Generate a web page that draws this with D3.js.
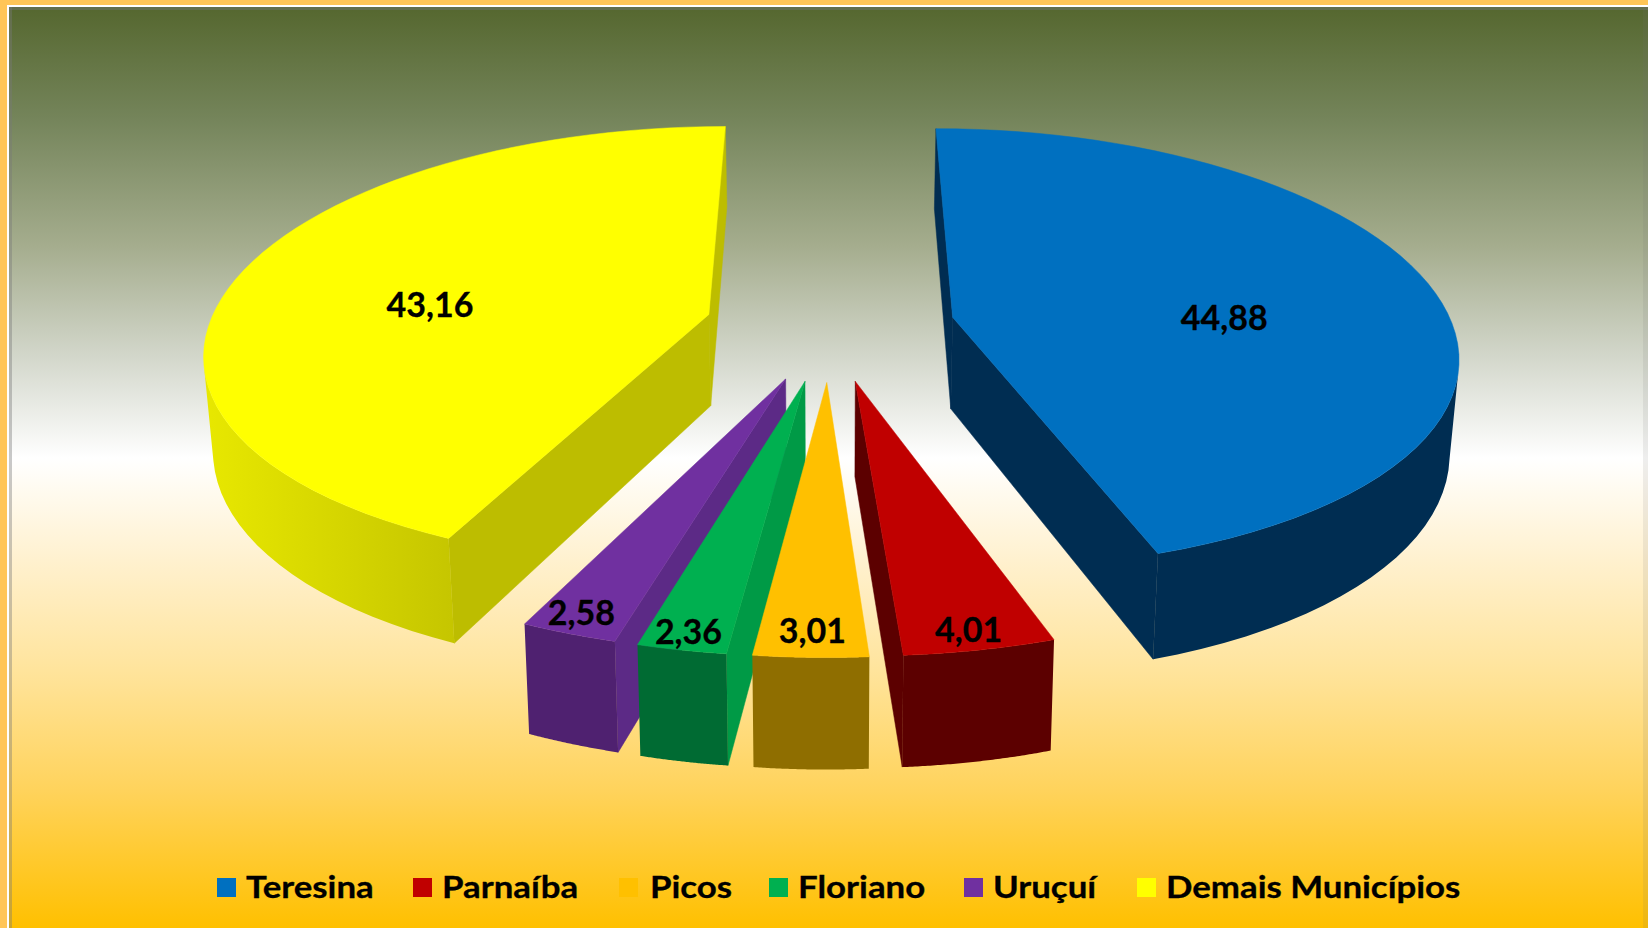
<!DOCTYPE html>
<html>
<head>
<meta charset="utf-8">
<script src="https://cdnjs.cloudflare.com/ajax/libs/d3/7.8.5/d3.min.js"></script>
<style>
    html, body { margin: 0; padding: 0; background: #ffc557; }
    svg { display: block; }
    text { font-family: Lato, "Open Sans", sans-serif; font-weight: 700; fill: #000; stroke: #000; stroke-width: 0.3px; }
</style>
</head>
<body>
<div id="wrapper"></div>
<script>
const categories = ["Teresina", "Parnaíba", "Picos", "Floriano", "Uruçuí", "Demais Municípios"]
const values = [44.88, 4.01, 3.01, 2.36, 2.58, 43.16]
const valueLabels = ["44,88", "4,01", "3,01", "2,36", "2,58", "43,16"]

const topColors = ["#0070c0", "#c00000", "#ffc000", "#00b050", "#7030a0", "#ffff00"]
const rimColors = ["#002d52", "#5c0000", "#8f6e00", "#006b33", "#4f2170", "#bdbd00"]
const rimLights = ["#002d52", "#5c0000", "#8f6e00", "#006b33", "#4f2170", "#e8e800"]
const wallColors = ["#002d52", "#5c0000", "#8f6e00", "#009a46", "#5c2a86", "#bdbd00"]

// painted from the outside in, the middle wedge last
const paintOrder = [0, 5, 1, 4, 3, 2]
const labelRadius = [0.54, 0.8, 0.86, 0.86, 0.84, 0.54]
const labelShift = [[12, 20], [17, 42], [-1, 19], [-13, 26], [-27, 27], [-24, 16]]
const legendX = [217, 413, 619, 769, 964, 1137]

const width = 1648
const height = 928
const pie = { cx: 830, cy: 326, horizon: -1200, radius: 500, explode: 125, persp: 0.1428, xPersp: 1.1, depth: 92, shrink: 0.985 }

const svg = d3.select("#wrapper").append("svg")
    .attr("width", width)
    .attr("height", height)

const defs = svg.append("defs")
const bg = defs.append("linearGradient").attr("id", "bg")
    .attr("x1", 0).attr("y1", 0).attr("x2", 0).attr("y2", 1)
const bgStops = [[0, "#55672f"], [0.12, "#74845a"], [0.26, "#a5ad8e"], [0.38, "#d3d7cb"], [0.49, "#ffffff"],
    [0.6, "#fff1cf"], [0.72, "#ffe49c"], [0.85, "#ffd35c"], [1, "#ffc000"]]
bg.selectAll("stop").data(bgStops).join("stop")
    .attr("offset", d => d[0])
    .attr("stop-color", d => d[1])

// frame: orange page, white line, soft grey edge
svg.append("rect").attr("x", 7).attr("y", 5).attr("width", width - 7).attr("height", height - 5).attr("fill", "#fff")
svg.append("rect").attr("x", 9).attr("y", 7).attr("width", width - 9).attr("height", height - 7).attr("fill", "url(#bg)")
svg.append("rect").attr("x", 9).attr("y", 7).attr("width", 3).attr("height", height - 7).attr("fill", "#777").attr("opacity", 0.4)
svg.append("rect").attr("x", 9).attr("y", 7).attr("width", width - 9).attr("height", 3).attr("fill", "#777").attr("opacity", 0.4)
svg.append("rect").attr("x", width - 5).attr("y", 7).attr("width", 5).attr("height", height - 7).attr("fill", "#777").attr("opacity", 0.12)

// world position of a point on the pie plane -> screen, top or bottom face
function project(x, y, low) {
    const w = 1 / (1 - pie.persp * y / pie.radius)
    const sy = pie.horizon + (pie.cy - pie.horizon) * w
    const sx = x * Math.pow(w, pie.xPersp)
    if (!low) return [pie.cx + sx, sy]
    return [pie.cx + sx * pie.shrink, sy + pie.depth * w]
}

function polar(a, r, mid) {
    const ex = pie.explode * Math.sin(mid)
    const ey = -pie.explode * Math.cos(mid)
    return [ex + r * Math.sin(a), ey - r * Math.cos(a)]
}

const rScale = d3.scaleLinear().domain([0, 1]).range([0, pie.radius])
const line = d3.line().curve(d3.curveLinear)

const arcs = d3.pie().sort(null).value(d => d)(values)
const slices = svg.append("g")

paintOrder.forEach(i => {
    const d = arcs[i]
    const mid = (d.startAngle + d.endAngle) / 2
    const g = slices.append("g").attr("class", "slice")
    const pt = (a, r, low) => {
        const p = polar(a, rScale(r), mid)
        return project(p[0], p[1], low)
    }

    const gradId = "rim" + i
    const grad = defs.append("linearGradient").attr("id", gradId).attr("gradientUnits", "userSpaceOnUse")
    const angles = d3.range(0, 61).map(k => d.startAngle + (d.endAngle - d.startAngle) * k / 60)
    const rimTop = angles.map(a => pt(a, 1, false))
    const rimLow = angles.map(a => pt(a, 1, true))
    const xr = d3.extent(rimTop, p => p[0])
    grad.attr("x1", xr[0]).attr("x2", xr[1]).attr("y1", 0).attr("y2", 0)
    grad.append("stop").attr("offset", 0).attr("stop-color", rimLights[i])
    grad.append("stop").attr("offset", 0.6).attr("stop-color", rimColors[i])

    // radial walls, only the ones turned to the viewer
    const walls = [
        [pt(d.startAngle, 0, false), pt(d.startAngle, 1, false), pt(d.startAngle, 1, true), pt(d.startAngle, 0, true)],
        [pt(d.endAngle, 1, false), pt(d.endAngle, 0, false), pt(d.endAngle, 0, true), pt(d.endAngle, 1, true)]
    ]
    walls.filter(w => d3.polygonArea(w) > 0).forEach(w => {
        g.append("path").attr("d", line(w) + "Z")
            .attr("fill", wallColors[i]).attr("stroke", wallColors[i]).attr("stroke-width", 0.5)
    })

    // outer rim, one polygon over the part that faces the viewer
    const front = d3.range(0, 60).filter(k =>
        d3.polygonArea([rimTop[k], rimTop[k + 1], rimLow[k + 1], rimLow[k]]) > 0)
    if (front.length) {
        const idx = front.concat(front[front.length - 1] + 1)
        const outline = idx.map(k => rimTop[k]).concat(idx.map(k => rimLow[k]).reverse())
        g.append("path").attr("d", line(outline) + "Z").attr("fill", "url(#" + gradId + ")")
    }

    // top face
    g.append("path").attr("d", line([pt(d.startAngle, 0, false)].concat(rimTop)) + "Z")
        .attr("fill", topColors[i]).attr("stroke", topColors[i]).attr("stroke-width", 0.5)
})

arcs.forEach((d, i) => {
    const mid = (d.startAngle + d.endAngle) / 2
    const p = polar(mid, rScale(labelRadius[i]), mid)
    const s = project(p[0], p[1], false)
    svg.append("text")
        .attr("x", s[0] + labelShift[i][0]).attr("y", s[1] + labelShift[i][1] + 11)
        .attr("text-anchor", "middle")
        .attr("font-size", 34)
        .text(valueLabels[i])
})

const legend = svg.append("g")
categories.forEach((c, i) => {
    legend.append("rect")
        .attr("x", legendX[i]).attr("y", 878).attr("width", 19).attr("height", 19)
        .attr("fill", topColors[i])
    const t = legend.append("text")
        .attr("x", legendX[i] + (i === 2 ? 31 : 29)).attr("y", 898)
        .attr("font-size", 30)
        .text(c)
    // the original legend type is wider than Lato
    t.attr("textLength", t.node().getComputedTextLength() * 1.16)
        .attr("lengthAdjust", "spacingAndGlyphs")
})
</script>
</body>
</html>
